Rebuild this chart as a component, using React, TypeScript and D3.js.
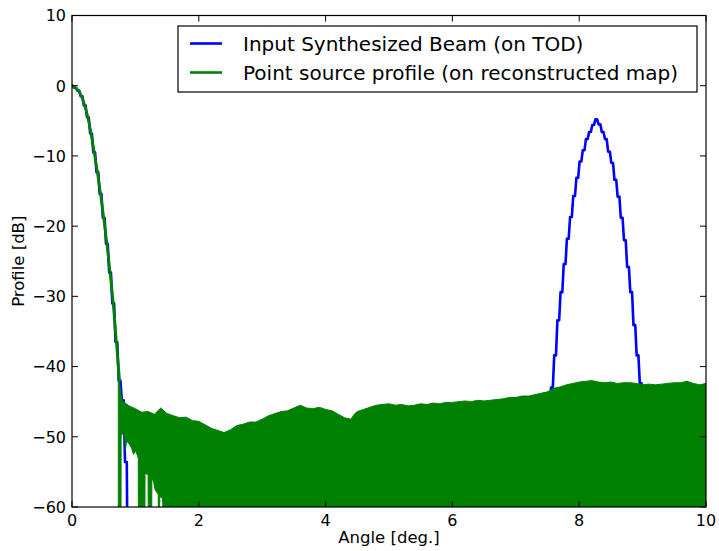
import React from "react";
import * as d3 from "d3";

// ---- data ----
// Main lobe, shared angular grid (deg)
const lobeAngles = [0, 0.05, 0.1, 0.15, 0.2, 0.25, 0.3, 0.35, 0.4, 0.45, 0.5, 0.55, 0.6, 0.65, 0.7, 0.75];
const greenLobe = [0, -0.3, -0.7, -1.5, -2.8, -4.5, -6.8, -9.5, -12.3, -15.4, -18.8, -22.5, -26.6, -31.0, -36.5, -42.0];

// Input synthesized beam (blue): main lobe + grating-lobe peak near 8.3 deg
const blueAngles = [
  0, 0.05, 0.1, 0.15, 0.2, 0.25, 0.3, 0.35, 0.4, 0.45, 0.5, 0.55, 0.6, 0.65, 0.7, 0.75, 0.8, 0.85, 0.9,
  7.42, 7.47, 7.52, 7.57, 7.62, 7.67, 7.72, 7.77, 7.82, 7.87, 7.92, 7.97, 8.02, 8.07, 8.12, 8.17, 8.22,
  8.27, 8.32, 8.37, 8.42, 8.47, 8.52, 8.57, 8.62, 8.67, 8.72, 8.77, 8.82, 8.87, 8.92, 8.97, 9.02, 9.07, 9.12,
];
const blueValues = [
  0, -0.3, -0.7, -1.5, -2.8, -4.5, -6.8, -9.5, -12.3, -15.4, -18.8, -22.5, -26.6, -31.0, -36.5, -42.0, -44.8, -53.6, -80,
  -80, -54, -48, -43.0, -38.4, -33.4, -29.4, -25.4, -21.8, -18.7, -15.7, -13.1, -10.8, -9.2, -7.6, -6.6, -5.6,
  -4.8, -5.5, -6.6, -7.6, -9.4, -11.0, -13.4, -15.8, -18.8, -22.0, -25.8, -29.4, -34.1, -38.4, -42.4, -47, -53, -80,
];

// Point-source profile noise floor (green): upper envelope
const envAngles = [
  0.73, 0.75, 0.77, 0.8, 0.9, 1.0, 1.1, 1.2, 1.3, 1.4, 1.5, 1.6, 1.7, 1.8, 1.9, 2.0, 2.1, 2.2, 2.3, 2.4, 2.5,
  2.6, 2.7, 2.8, 2.9, 3.0, 3.1, 3.2, 3.3, 3.4, 3.5, 3.6, 3.7, 3.8, 3.9, 4.0, 4.1, 4.2, 4.3, 4.4, 4.45, 4.5,
  4.6, 4.7, 4.8, 4.9, 5.0, 5.1, 5.2, 5.3, 5.4, 5.5, 5.6, 5.7, 5.8, 5.9, 6.0, 6.1, 6.2, 6.3, 6.4, 6.5, 6.6,
  6.7, 6.8, 6.9, 7.0, 7.1, 7.2, 7.3, 7.4, 7.5, 7.6, 7.7, 7.8, 7.9, 8.0, 8.1, 8.2, 8.3, 8.4, 8.5, 8.6, 8.7,
  8.8, 8.9, 9.0, 9.1, 9.2, 9.3, 9.4, 9.5, 9.6, 9.7, 9.8, 9.9, 10.0,
];
const envUpper = [
  -40.0, -42.0, -44.0, -44.9, -45.6, -46.0, -46.5, -46.4, -46.8, -45.9, -46.7, -47.0, -47.3, -47.2, -47.7, -47.8, -48.3, -48.8, -49.1, -49.4, -49.0,
  -48.4, -48.2, -47.9, -47.9, -47.5, -47.0, -46.7, -46.4, -46.3, -45.9, -45.5, -45.9, -46.0, -45.8, -46.1, -46.3, -46.8, -47.3, -47.5, -46.8, -46.4,
  -46.1, -45.8, -45.5, -45.4, -45.3, -45.5, -45.4, -45.6, -45.5, -45.3, -45.4, -45.2, -45.3, -45.1, -45.1, -45.0, -44.9, -45.0, -44.8, -44.9, -44.8,
  -44.7, -44.6, -44.4, -44.4, -44.2, -44.2, -44.0, -43.8, -43.6, -43.1, -42.9, -42.6, -42.4, -42.2, -42.1, -42.0, -42.2, -42.3, -42.2, -42.4, -42.3,
  -42.3, -42.4, -42.6, -42.5, -42.6, -42.5, -42.4, -42.3, -42.3, -42.1, -42.4, -42.6, -42.4,
];
// lower envelope (where the oscillation does not reach the bottom of the plot)
const lowAngles = [
  0.73, 0.773, 0.775, 0.81, 0.835, 0.845, 0.86, 0.9, 0.94, 0.97, 1.0, 1.03, 1.045, 1.047, 1.15, 1.152, 1.2, 1.202,
  1.257, 1.26, 1.29, 1.31, 1.36, 1.362, 1.38, 1.385, 1.43, 1.435, 10.0,
];
const lowValues = [
  -61, -61, -49.8, -49.5, -50.3, -51.8, -50.6, -51.0, -51.6, -52.5, -52.0, -52.6, -53.0, -61, -61, -55.2, -55.4, -61,
  -61, -55.8, -56.5, -57.5, -58.2, -61, -61, -58.5, -58.8, -61, -61,
];

const xTicks = [0, 2, 4, 6, 8, 10];
const yTicks = [10, 0, -10, -20, -30, -40, -50, -60];
const legendLabels = ["Input Synthesized Beam (on TOD)", "Point source profile (on reconstructed map)"];
const seriesColors = ["#0000ff", "#008000"];

const W = 719;
const H = 551;
const L = 72, R = 706, T = 15.5, B = 507;

export default function App() {
  const x = d3.scaleLinear().domain([0, 10]).range([L, R]);
  const y = d3.scaleLinear().domain([-60, 10]).range([B, T]);

  // pixelised beam: short plateau around each sample, steep ramps between
  const half = 0.014;
  const bluePts: [number, number][] = [];
  blueAngles.forEach((a, i) => {
    bluePts.push([a - half, blueValues[i]]);
    bluePts.push([a + half, blueValues[i]]);
  });
  const blueLine = d3
    .line<[number, number]>()
    .x((d) => x(d[0]))
    .y((d) => y(d[1]))(bluePts);

  const greenLine = d3
    .line<number>()
    .x((_, i) => x(lobeAngles[i]))
    .y((d) => y(d))
    .curve(d3.curveMonotoneX)(greenLobe);

  const poly: [number, number][] = [];
  envAngles.forEach((a, i) => poly.push([a, envUpper[i]]));
  for (let i = lowAngles.length - 1; i >= 0; i--) poly.push([lowAngles[i], lowValues[i]]);
  const noisePath =
    d3
      .line<[number, number]>()
      .x((d) => x(d[0]))
      .y((d) => y(d[1]))(poly) + "Z";

  const font = "'DejaVu Sans', sans-serif";
  const tick = 6;
  const fmt = (v: number) => (v < 0 ? "\u2212" + Math.abs(v) : String(v));

  return (
    <svg width={W} height={H} style={{ position: "absolute", left: 0, top: 0, background: "#fff" }} fontFamily={font}>
      <defs>
        <clipPath id="plotclip">
          <rect x={L} y={T} width={R - L} height={B - T} />
        </clipPath>
      </defs>
      <rect x={0} y={0} width={W} height={H} fill="#fff" />
      <g clipPath="url(#plotclip)">
        <path d={blueLine || ""} fill="none" stroke={seriesColors[0]} strokeWidth={2.6} strokeLinejoin="round" />
        <path d={noisePath} fill={seriesColors[1]} stroke={seriesColors[1]} strokeWidth={1} strokeLinejoin="round" />
        <path d={greenLine || ""} fill="none" stroke={seriesColors[1]} strokeWidth={2.8} strokeLinejoin="round" strokeLinecap="round" />
      </g>
      {/* frame */}
      <rect x={L} y={T} width={R - L} height={B - T} fill="none" stroke="#000" strokeWidth={1.2} />
      {/* x ticks */}
      {xTicks.map((v) => (
        <g key={"x" + v}>
          <line x1={x(v)} x2={x(v)} y1={B} y2={B - tick} stroke="#000" strokeWidth={1} />
          <line x1={x(v)} x2={x(v)} y1={T} y2={T + tick} stroke="#000" strokeWidth={1} />
          <text x={x(v)} y={525.5} textAnchor="middle" fontSize={16} fill="#000">
            {fmt(v)}
          </text>
        </g>
      ))}
      {/* y ticks */}
      {yTicks.map((v) => (
        <g key={"y" + v}>
          <line x1={L} x2={L + tick} y1={y(v)} y2={y(v)} stroke="#000" strokeWidth={1} />
          <line x1={R} x2={R - tick} y1={y(v)} y2={y(v)} stroke="#000" strokeWidth={1} />
          <text x={66} y={y(v) + 5.8} textAnchor="end" fontSize={16} fill="#000">
            {fmt(v)}
          </text>
        </g>
      ))}
      {/* axis labels */}
      <text x={(L + R) / 2} y={543} textAnchor="middle" fontSize={16.5} fill="#000">
        Angle [deg.]
      </text>
      <text transform={`translate(23.5,${(T + B) / 2}) rotate(-90)`} textAnchor="middle" fontSize={16.5} fill="#000">
        Profile [dB]
      </text>
      {/* legend */}
      <rect x={178} y={26} width={519} height={66} fill="#fff" stroke="#000" strokeWidth={1.2} />
      {legendLabels.map((lab, i) => (
        <g key={lab}>
          <line x1={190} x2={222} y1={43.5 + i * 29} y2={43.5 + i * 29} stroke={seriesColors[i]} strokeWidth={2.6} />
          <text x={243} y={51 + i * 29} fontSize={20} fill="#000">
            {lab}
          </text>
        </g>
      ))}
    </svg>
  );
}
